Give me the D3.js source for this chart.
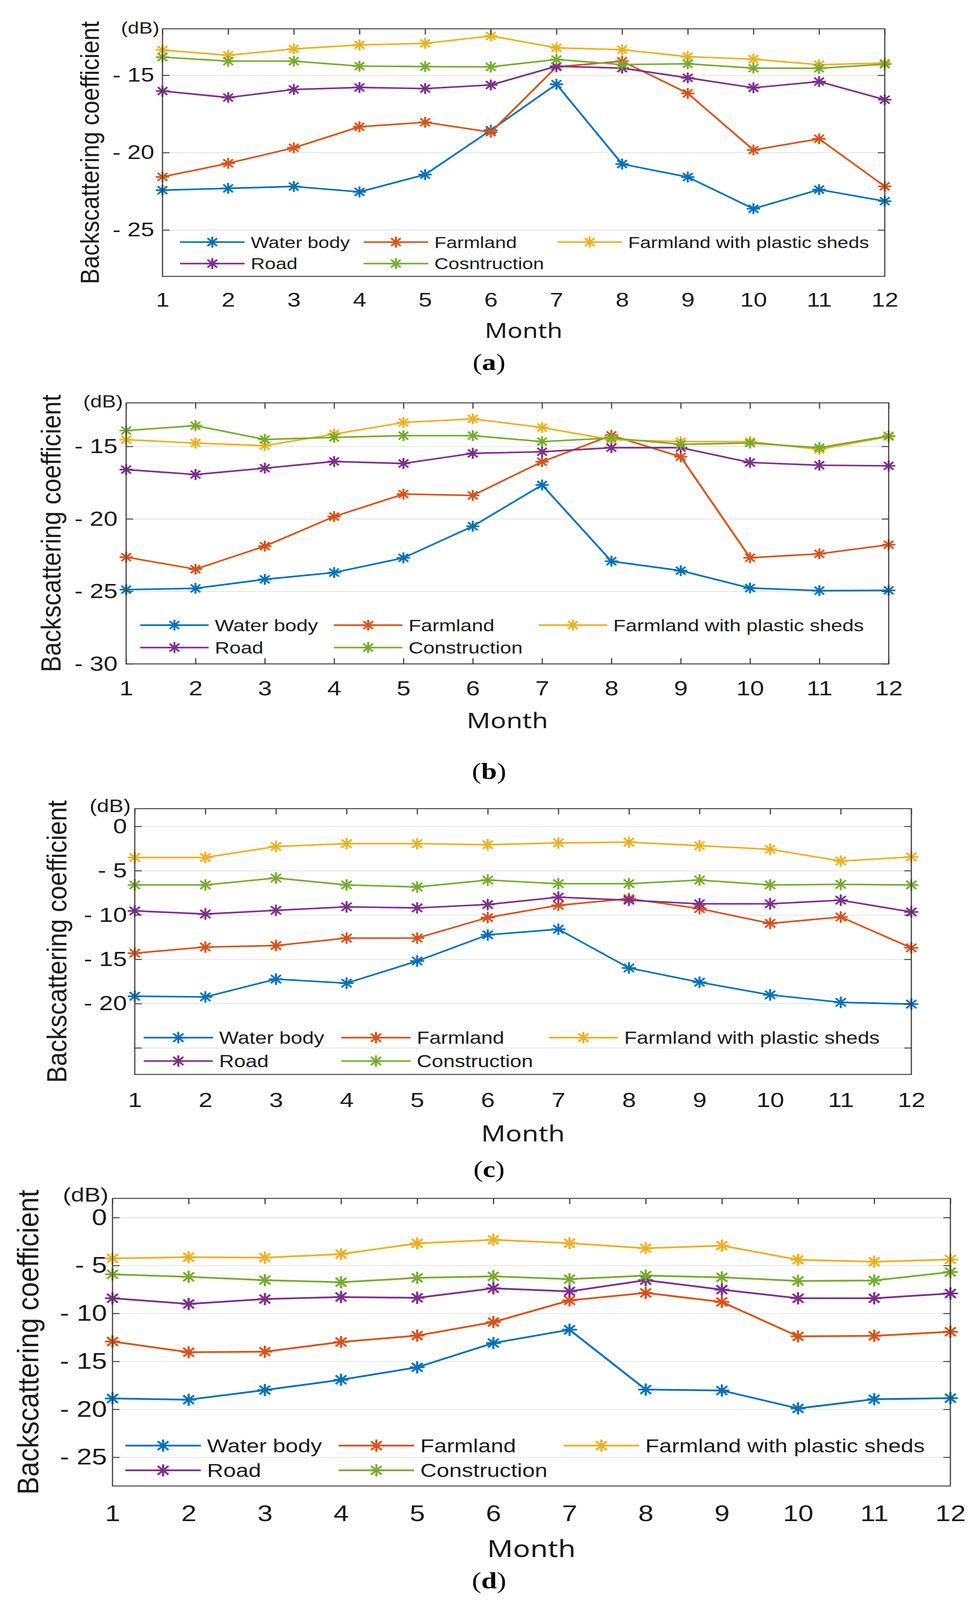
<!DOCTYPE html>
<html>
<head>
<meta charset="utf-8">
<script src="https://cdn.jsdelivr.net/npm/d3@7"></script>
<style>
  html, body { margin: 0; padding: 0; background: #fff; overflow: hidden; }
  svg { display: block; }
  svg text { font-family: "Liberation Sans", Arial, sans-serif; fill: #1a1a1a; }
</style>
</head>
<body>
<div id="chart"></div>
<script>
// drawing coordinates follow the 2496 x 4996 reference; the svg is fitted to the window
var W = 2496, H = 4996;

var months = [1, 2, 3, 4, 5, 6, 7, 8, 9, 10, 11, 12];
var seriesNames = ["Water body", "Farmland", "Farmland with plastic sheds", "Road", "Construction"];
var seriesNamesA = ["Water body", "Farmland", "Farmland with plastic sheds", "Road", "Cosntruction"];
var colors = ["#0072BD", "#D95319", "#EDB120", "#7E2F8E", "#77AC30"];

// (a)
var waterA = [-22.43, -22.31, -22.19, -22.54, -21.42, -18.55, -15.58, -20.74, -21.58, -23.63, -22.39, -23.14];
var farmA  = [-21.57, -20.69, -19.69, -18.33, -18.04, -18.68, -14.46, -14.09, -16.17, -19.83, -19.11, -22.18];
var shedA  = [-13.37, -13.71, -13.30, -13.04, -12.94, -12.46, -13.23, -13.35, -13.80, -13.96, -14.32, -14.21];
var roadA  = [-16.02, -16.44, -15.92, -15.79, -15.86, -15.63, -14.42, -14.54, -15.17, -15.81, -15.41, -16.58];
var consA  = [-13.83, -14.09, -14.09, -14.41, -14.44, -14.46, -13.98, -14.31, -14.26, -14.54, -14.55, -14.29];
var yTicksA = [-15, -20, -25];

// (b)
var waterB = [-24.88, -24.79, -24.17, -23.70, -22.69, -20.51, -17.66, -22.92, -23.57, -24.77, -24.95, -24.93];
var farmB  = [-22.64, -23.47, -21.88, -19.84, -18.29, -18.38, -16.06, -14.24, -15.72, -22.68, -22.41, -21.78];
var shedB  = [-14.54, -14.77, -14.95, -14.15, -13.35, -13.10, -13.70, -14.54, -14.67, -14.67, -15.21, -14.33];
var roadB  = [-16.60, -16.94, -16.50, -16.04, -16.18, -15.48, -15.37, -15.09, -15.09, -16.11, -16.30, -16.34];
var consB  = [-13.91, -13.57, -14.52, -14.38, -14.26, -14.26, -14.67, -14.42, -14.86, -14.77, -15.09, -14.28];
var yTicksB = [-15, -20, -25, -30];

// (c)
var waterC = [-19.17, -19.25, -17.24, -17.70, -15.20, -12.24, -11.61, -15.98, -17.59, -19.02, -19.86, -20.06];
var farmC  = [-14.31, -13.62, -13.45, -12.61, -12.61, -10.29, -8.91, -8.16, -9.28, -10.95, -10.23, -13.71];
var shedC  = [-3.51, -3.51, -2.27, -1.95, -1.95, -2.07, -1.87, -1.78, -2.18, -2.59, -3.91, -3.45];
var roadC  = [-9.54, -9.89, -9.48, -9.08, -9.20, -8.82, -7.99, -8.33, -8.74, -8.74, -8.33, -9.66];
var consC  = [-6.61, -6.61, -5.83, -6.61, -6.84, -6.06, -6.47, -6.47, -6.06, -6.61, -6.55, -6.61];
var yTicksC = [0, -5, -10, -15, -20, -25];
var yLabelledC = [0, -5, -10, -15, -20];

// (d)
var waterD = [-18.87, -19.00, -17.99, -16.92, -15.62, -13.09, -11.70, -17.94, -18.04, -19.91, -18.95, -18.84];
var farmD  = [-12.93, -14.05, -13.99, -12.98, -12.31, -10.90, -8.64, -7.86, -8.80, -12.39, -12.34, -11.91];
var shedD  = [-4.26, -4.13, -4.18, -3.81, -2.69, -2.32, -2.67, -3.20, -2.93, -4.40, -4.61, -4.37];
var roadD  = [-8.42, -9.01, -8.50, -8.29, -8.37, -7.38, -7.70, -6.53, -7.52, -8.42, -8.42, -7.92];
var consD  = [-5.92, -6.18, -6.53, -6.74, -6.29, -6.13, -6.42, -6.05, -6.24, -6.61, -6.56, -5.68];
var yTicksD = [0, -5, -10, -15, -20, -25];

var svg = d3.select("#chart").append("svg")
    .attr("width", window.innerWidth || W)
    .attr("height", window.innerHeight || H)
    .attr("viewBox", "0 0 " + W + " " + H)
    .attr("preserveAspectRatio", "none");

var fmt = function (d) {
    return d < 0 ? "- " + (-d) : "" + d;
};

// asterisk marker like matlab '*'
var star = function (r) {
    var d = r * 0.72;
    return "M" + (-r) + ",0H" + r +
        "M0," + (-r) + "V" + r +
        "M" + (-d) + "," + (-d) + "L" + d + "," + d +
        "M" + (-d) + "," + d + "L" + d + "," + (-d);
};

var drawPanel = function (p) {
    var g = svg.append("g");
    var x = d3.scaleLinear().domain([1, 12]).range([p.left, p.right]);
    var y = d3.scaleLinear().domain(p.yDomain).range([p.bottom, p.top]);
    var tl = 18;

    // horizontal grid
    g.append("g")
        .attr("transform", "translate(" + p.left + ",0)")
        .call(d3.axisLeft(y).tickValues(p.yTicks).tickSize(-(p.right - p.left)).tickFormat(""))
        .call(function (s) {
            s.select(".domain").remove();
            s.selectAll("line").attr("stroke", "#e3e3e3").attr("stroke-width", 2.5);
        });

    var lineGen = d3.line()
        .x(function (d, i) { return x(months[i]); })
        .y(function (d) { return y(d); });

    p.series.forEach(function (vals, k) {
        g.append("path")
            .datum(vals)
            .attr("d", lineGen)
            .attr("fill", "none")
            .attr("stroke", colors[k])
            .attr("stroke-width", p.lw);
        g.selectAll(null)
            .data(vals)
            .enter()
            .append("path")
            .attr("transform", function (d, i) { return "translate(" + x(months[i]) + "," + y(d) + ")"; })
            .attr("d", star(p.mr))
            .attr("fill", "none")
            .attr("stroke", colors[k])
            .attr("stroke-width", p.lw);
    });

    // axes
    var styleAxis = function (s) {
        s.select(".domain").remove();
        s.selectAll("line").attr("stroke", "#404040").attr("stroke-width", 3);
        s.selectAll("text")
            .attr("font-size", p.tickFs)
            .attr("fill", "#1a1a1a")
            .style("font-family", "Liberation Sans, Arial, sans-serif");
    };

    g.append("g")
        .attr("transform", "translate(" + p.left + ",0)")
        .call(d3.axisLeft(y).tickValues(p.yTicks).tickSizeInner(-tl).tickSizeOuter(0)
            .tickPadding(p.yPad)
            .tickFormat(function (d) { return p.yLabelled.indexOf(d) >= 0 ? fmt(d) : ""; }))
        .call(styleAxis);

    g.append("g")
        .attr("transform", "translate(" + p.right + ",0)")
        .call(d3.axisRight(y).tickValues(p.yTicks).tickSizeInner(-tl).tickSizeOuter(0).tickFormat(""))
        .call(styleAxis);

    g.append("g")
        .attr("transform", "translate(0," + p.top + ")")
        .call(d3.axisTop(x).tickValues(months).tickSizeInner(-tl).tickSizeOuter(0).tickFormat(""))
        .call(styleAxis);

    g.append("g")
        .attr("transform", "translate(0," + p.bottom + ")")
        .call(d3.axisBottom(x).tickValues(months).tickSizeInner(p.bottomTicks ? -tl : 0).tickSizeOuter(0)
            .tickPadding(p.xBase - p.bottom - 0.71 * p.tickFs))
        .call(styleAxis);

    g.append("rect")
        .attr("x", p.left)
        .attr("y", p.top)
        .attr("width", p.right - p.left)
        .attr("height", p.bottom - p.top)
        .attr("fill", "none")
        .attr("stroke", "#404040")
        .attr("stroke-width", 3);

    // legend (no box)
    p.names.forEach(function (name, k) {
        var row = k < 3 ? 0 : 1;
        var col = k < 3 ? k : k - 3;
        var lx = p.legCols[col], ly = p.legRows[row];
        g.append("line")
            .attr("x1", lx).attr("x2", lx + p.legLine)
            .attr("y1", ly).attr("y2", ly)
            .attr("stroke", colors[k])
            .attr("stroke-width", p.lw);
        g.append("path")
            .attr("transform", "translate(" + (lx + p.legLine / 2) + "," + ly + ")")
            .attr("d", star(p.mr))
            .attr("fill", "none")
            .attr("stroke", colors[k])
            .attr("stroke-width", p.lw);
        g.append("text")
            .attr("x", lx + p.legLine + 16)
            .attr("y", ly + 0.36 * p.legFs)
            .attr("font-size", p.legFs)
            .text(name);
    });

    // y label
    g.append("text")
        .attr("transform", "translate(" + p.ylab.x + "," + (p.top + p.bottom) / 2 + ") rotate(-90)")
        .attr("text-anchor", "middle")
        .attr("font-size", p.ylab.fs)
        .attr("textLength", p.ylab.len)
        .attr("lengthAdjust", "spacingAndGlyphs")
        .text("Backscattering coefficient");

    g.append("text")
        .attr("x", p.db.x)
        .attr("y", p.db.y)
        .attr("text-anchor", "end")
        .attr("font-size", p.db.fs)
        .text("(dB)");

    g.append("text")
        .attr("x", (p.left + p.right) / 2)
        .attr("y", p.monthY)
        .attr("text-anchor", "middle")
        .attr("font-size", p.monthFs)
        .style("font-family", "Noto Sans, Open Sans, sans-serif")
        .text("Month");

    var cap = g.append("text")
        .attr("x", 1252)
        .attr("y", p.capY)
        .attr("text-anchor", "middle")
        .attr("font-size", 72)
        .style("font-family", "Liberation Serif, serif")
        .style("fill", "#000");
    cap.append("tspan").text("(");
    cap.append("tspan").attr("font-weight", "bold").text(p.cap);
    cap.append("tspan").text(")");
};

drawPanel({
    cap: "a", series: [waterA, farmA, shedA, roadA, consA], names: seriesNamesA,
    yTicks: yTicksA, yLabelled: yTicksA, yDomain: [-28, -12],
    left: 416, right: 2265, top: 90, bottom: 863,
    tickFs: 62, yPad: 21, xBase: 957, bottomTicks: false,
    lw: 5, mr: 17,
    ylab: {x: 253, fs: 66, len: 821},
    db: {x: 408, y: 105, fs: 52},
    monthY: 1055, monthFs: 64, capY: 1155,
    legRows: [756, 823], legCols: [461, 931, 1427], legLine: 165, legFs: 50
});

drawPanel({
    cap: "b", series: [waterB, farmB, shedB, roadB, consB], names: seriesNames,
    yTicks: yTicksB, yLabelled: yTicksB, yDomain: [-30, -12],
    left: 323, right: 2275, top: 1258, bottom: 2073,
    tickFs: 64, yPad: 22, xBase: 2171, bottomTicks: true,
    lw: 5, mr: 17,
    ylab: {x: 155, fs: 70, len: 867},
    db: {x: 315, y: 1272, fs: 54},
    monthY: 2274, monthFs: 67, capY: 2432,
    legRows: [1952, 2022], legCols: [359, 855, 1379], legLine: 175, legFs: 52
});

drawPanel({
    cap: "c", series: [waterC, farmC, shedC, roadC, consC], names: seriesNames,
    yTicks: yTicksC, yLabelled: yLabelledC, yDomain: [-28, 2],
    left: 345, right: 2333, top: 2525, bottom: 3355,
    tickFs: 64, yPad: 20, xBase: 3457, bottomTicks: false,
    lw: 5, mr: 18,
    ylab: {x: 170, fs: 70, len: 882},
    db: {x: 335, y: 2536, fs: 56},
    monthY: 3564, monthFs: 69, capY: 3675,
    legRows: [3240, 3313], legCols: [368, 874, 1405], legLine: 177, legFs: 53
});

drawPanel({
    cap: "d", series: [waterD, farmD, shedD, roadD, consD], names: seriesNames,
    yTicks: yTicksD, yLabelled: yTicksD, yDomain: [-28, 2],
    left: 288, right: 2433, top: 3742, bottom: 4640,
    tickFs: 70, yPad: 14, xBase: 4750, bottomTicks: false,
    lw: 5.5, mr: 19,
    ylab: {x: 98, fs: 76, len: 952},
    db: {x: 278, y: 3752, fs: 62},
    monthY: 4862, monthFs: 73, capY: 4960,
    legRows: [4514, 4591], legCols: [321, 867, 1443], legLine: 193, legFs: 58
});
</script>
</body>
</html>
